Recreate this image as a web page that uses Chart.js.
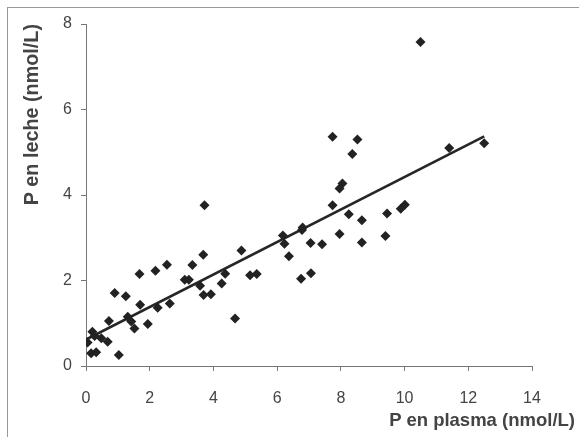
<!DOCTYPE html>
<html>
<head>
<meta charset="utf-8">
<script src="https://cdn.jsdelivr.net/npm/chart.js@4/dist/chart.umd.min.js"></script>
<style>
  html, body { margin: 0; padding: 0; background: #fff; overflow: hidden; }
  #wrap { position: relative; width: 579px; height: 437px; }
  #frame { position: absolute; left: 7px; top: 7px; width: 700px; height: 600px;
           border-left: 1px solid #999; border-top: 1px solid #999; pointer-events: none; }
  #xtitle { position: absolute; right: 4px; top: 409px; line-height: 21px;
            font: bold 18.5px "Liberation Sans", Arial, sans-serif;
            color: #444; white-space: nowrap; }
  canvas { position: absolute; left: 0; top: 0; }
</style>
</head>
<body>
<div id="wrap">
  <canvas id="c" width="579" height="437"></canvas>
  <div id="frame"></div>
  <div id="xtitle">P en plasma (nmol/L)</div>
</div>
<script>
// Data
const plasma = [0.05, 0.2, 0.27, 0.48, 0.68, 0.16, 0.32, 1.03,
  0.72, 0.9, 1.25, 1.31, 1.42, 1.52, 1.94, 1.70, 2.25, 2.63,
  1.68, 2.18, 2.54, 3.34, 3.68, 3.72,
  3.10, 3.23, 3.58, 3.69, 3.92, 4.26, 4.37, 4.68, 4.88, 5.15, 5.36,
  6.18, 6.23, 6.37, 6.78, 6.80, 6.75, 7.05, 7.06, 7.41,
  7.74, 8.52, 8.36, 8.05, 7.96, 7.74, 8.25, 8.66, 7.96, 8.66,
  9.40, 9.45, 9.88, 10.01, 10.5, 11.4, 12.5];
const leche = [0.55, 0.80, 0.70, 0.65, 0.57, 0.30, 0.32, 0.26,
  1.05, 1.71, 1.63, 1.15, 1.04, 0.88, 0.98, 1.43, 1.36, 1.46,
  2.15, 2.23, 2.37, 2.36, 2.60, 3.76,
  2.02, 2.02, 1.88, 1.66, 1.68, 1.93, 2.16, 1.11, 2.70, 2.12, 2.15,
  3.05, 2.86, 2.57, 3.18, 3.24, 2.04, 2.88, 2.17, 2.85,
  5.36, 5.30, 4.96, 4.27, 4.15, 3.76, 3.55, 3.41, 3.09, 2.89,
  3.04, 3.57, 3.68, 3.77, 7.58, 5.10, 5.21];
const trendX = [0, 12.5];
const trendY = [0.62, 5.37];
const xTicks = [0, 2, 4, 6, 8, 10, 12, 14];
const yTicks = [0, 2, 4, 6, 8];
const yTitle = 'P en leche (nmol/L)';

const pts = plasma.map((x, i) => ({ x: x, y: leche[i] }));
const trend = trendX.map((x, i) => ({ x: x, y: trendY[i] }));

const tickFont = { family: '"Liberation Sans", Arial, sans-serif', size: 16 };

new Chart(document.getElementById('c'), {
  type: 'scatter',
  data: {
    datasets: [
      {
        type: 'line', data: trend, borderColor: '#262626', borderWidth: 2.6,
        pointRadius: 0, fill: false, order: 2
      },
      {
        data: pts, pointStyle: 'rectRot', pointRadius: 5,
        backgroundColor: '#222', borderColor: '#222', borderWidth: 0, order: 1
      }
    ]
  },
  options: {
    responsive: false,
    animation: false,
    layout: { padding: { left: 0, top: 24, right: 47, bottom: 0 } },
    plugins: { legend: { display: false }, tooltip: { enabled: false } },
    scales: {
      x: {
        type: 'linear', min: 0, max: 14,
        afterBuildTicks: s => { s.ticks = xTicks.map(v => ({ value: v })); },
        afterFit: s => { s.height = 71; },
        grid: { display: true, drawOnChartArea: false, drawTicks: true, tickLength: 5, color: '#777' },
        border: { display: true, color: '#777', width: 1 },
        ticks: { color: '#444', font: tickFont, padding: 18, maxRotation: 0 }
      },
      y: {
        type: 'linear', min: 0, max: 8,
        afterBuildTicks: s => { s.ticks = yTicks.map(v => ({ value: v })); },
        afterFit: s => { s.width = 86; },
        grid: { display: true, drawOnChartArea: false, drawTicks: true, tickLength: 5, color: '#777' },
        border: { display: true, color: '#777', width: 1 },
        ticks: { color: '#444', font: tickFont, padding: 9 },
        title: {
          display: true, text: yTitle, align: 'end', color: '#444',
          font: { family: '"Liberation Sans", Arial, sans-serif', size: 19.8, weight: 'bold' },
          padding: { top: 21, bottom: 0 }
        }
      }
    }
  }
});
</script>
</body>
</html>
